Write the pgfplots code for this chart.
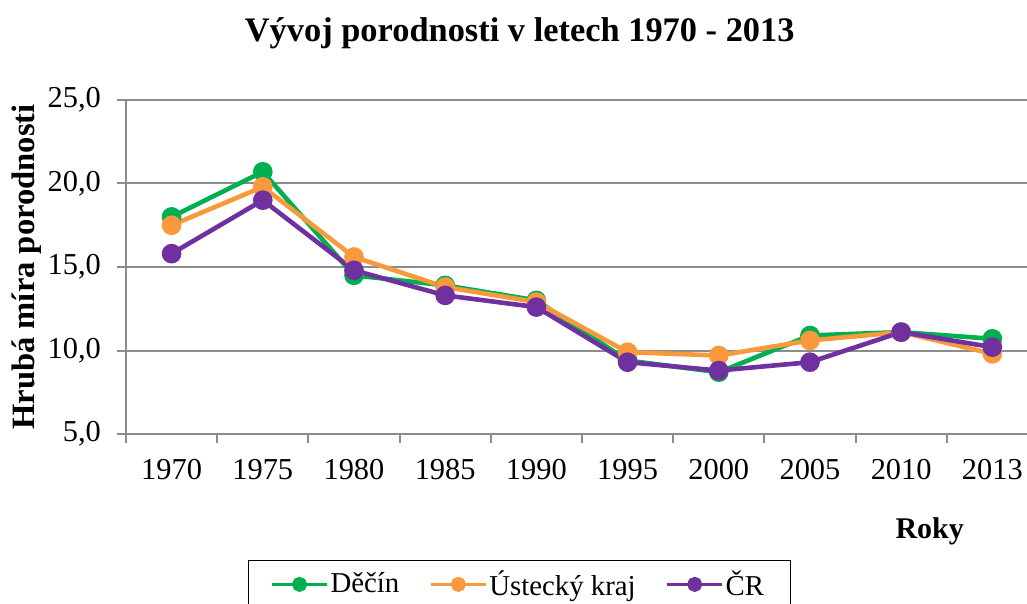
\documentclass[border=0pt]{standalone}
\usepackage{fontspec}
\setmainfont{Liberation Serif}
\usepackage{pgfplots}
\pgfplotsset{compat=1.18}
\definecolor{decin}{HTML}{00B050}
\definecolor{ustecky}{HTML}{F89A3C}
\definecolor{cr}{HTML}{7030A0}
\definecolor{gridgray}{HTML}{8C8C8C}

\begin{document}
\begin{tikzpicture}
\begin{axis}[
  at={(0,0)},anchor=south west,
  scale only axis,width=450.5pt,height=167pt,
  xmin=-0.5,xmax=9.38,ymin=5,ymax=25,
  axis x line*=bottom,axis y line*=left,
  axis line style={draw=gridgray,line width=1pt,-},
  xtick={0,...,9},
  xticklabels={1970,1975,1980,1985,1990,1995,2000,2005,2010,2013},
  major x tick style={draw=none},
  minor xtick={-0.5,0.5,...,8.5},
  minor tick length=4.5pt,
  ytick={5,10,15,20,25},
  major tick length=4.5pt,
  tick align=outside,
  tick style={draw=gridgray,line width=1pt},
  ymajorgrids,grid style={draw=gridgray,line width=1pt},
  tick label style={font=\fontsize{15.2}{17}\selectfont},
  yticklabel={\pgfmathprintnumber{\tick}},
  /pgf/number format/.cd,use comma,fixed,fixed zerofill,precision=1,assume math mode=true,
  /pgfplots/.cd,
  xticklabel style={anchor=base,yshift=-18pt},
  yticklabel style={anchor=east,xshift=-4.5pt},
  title={Vývoj porodnosti v letech 1970 - 2013},
  title style={font=\fontsize{17.2}{20}\selectfont\bfseries,at={(axis description cs:0.437,1)},anchor=base,yshift=23pt},
  ylabel={Hrubá míra porodnosti},
  ylabel style={font=\fontsize{16.3}{18}\selectfont\bfseries,at={(axis description cs:-0.11,0.5)},anchor=center,rotate=0},
  xlabel={Roky},
  xlabel style={font=\fontsize{15}{17}\selectfont\bfseries,at={(axis description cs:0.892,0)},anchor=base,yshift=-52pt},
  legend style={at={(axis description cs:0.1354,-0.377)},anchor=north west,
    draw=black,line width=0.6pt,font=\fontsize{14.4}{17}\selectfont,
    inner xsep=11pt,inner ysep=3pt},
  legend columns=3,
  legend image code/.code={
    \draw[#1,line width=1.5pt,mark=none] (0pt,0pt) -- (27.5pt,0pt);
    \draw[#1,mark size=2.6pt] plot coordinates {(13.75pt,0pt)};
  },
  /tikz/every odd column/.append style={column sep=-1pt},
  /tikz/every even column/.append style={column sep=13pt},
  every axis plot/.append style={line width=2.3pt,mark=*,mark size=3.75pt},
]
\addplot[color=decin] coordinates {
  (0,18.0) (1,20.7) (2,14.5) (3,13.9) (4,13.0) (5,9.4) (6,8.7) (7,10.9) (8,11.1) (9,10.7)};
\addplot[color=ustecky] coordinates {
  (0,17.5) (1,19.8) (2,15.6) (3,13.8) (4,12.9) (5,9.9) (6,9.7) (7,10.6) (8,11.1) (9,9.8)};
\addplot[color=cr] coordinates {
  (0,15.8) (1,19.0) (2,14.8) (3,13.3) (4,12.6) (5,9.3) (6,8.8) (7,9.3) (8,11.1) (9,10.2)};
\legend{Děčín,Ústecký kraj,ČR}
\end{axis}
\pgfresetboundingbox
\useasboundingbox (-63pt,-85pt) rectangle (450.5pt,217pt);
\end{tikzpicture}
\end{document}
